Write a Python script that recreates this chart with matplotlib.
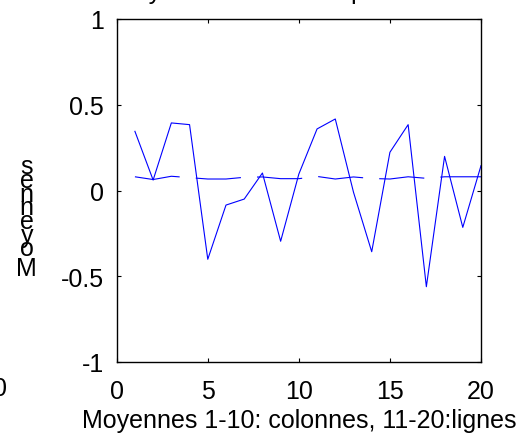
import matplotlib
matplotlib.use("Agg")
import matplotlib.pyplot as plt
import numpy as np

plt.rcParams['font.family'] = ['Liberation Sans', 'DejaVu Sans']
plt.rcParams['lines.scale_dashes'] = False

# Data
x = list(range(1, 21))
moyennes = [0.345, 0.061, 0.394, 0.384, -0.401, -0.085, -0.050, 0.102, -0.296, 0.096,
            0.359, 0.417, -0.010, -0.357, 0.223, 0.384, -0.561, 0.199, -0.215, 0.145]
reference = [0.080, 0.064, 0.083, 0.075, 0.067, 0.067, 0.077, 0.079, 0.069, 0.069,
             0.082, 0.067, 0.079, 0.070, 0.067, 0.080, 0.071, 0.080, 0.080, 0.080]
xticks = [0, 5, 10, 15, 20]
yticks = [-1, -0.5, 0, 0.5, 1]
yticklabels = ['-1', '-0.5', '0', '0.5', '1']
xlabel = 'Moyennes 1-10: colonnes, 11-20:lignes'
ylabel = 'Moyennes'
title = 'Moyennes des effets par facteurs'

W, H = 527, 439
fig = plt.figure(figsize=(W / 100, H / 100), dpi=100)
ax = fig.add_axes([116.7 / W, 1 - 363 / H, (481 - 116.7) / W, (363 - 20) / H])

fs = 18
ax.plot(x, moyennes, color='#0000ff', lw=0.8)
ax.plot(x, reference, color='#0000ff', lw=0.8, ls=(0, (32.6, 11.6)))

ax.set_xlim(0, 20)
ax.set_ylim(-1, 1)
ax.set_xticks(xticks)
ax.set_xticklabels([str(t) for t in xticks])
ax.set_yticks(yticks)
ax.set_yticklabels(yticklabels)
ax.tick_params(direction='in', length=3, width=0.8, top=True, right=True,
               labelsize=fs, colors='black')
ax.tick_params(axis='x', pad=12)
ax.tick_params(axis='y', pad=9)
for s in ax.spines.values():
    s.set_linewidth(1.0)
ax.set_xlabel(xlabel, fontsize=fs, labelpad=4)

# title partially cut at the top of the image
fig.text(298.9 / W, 1 + 1.0 / H, title, fontsize=fs, ha='center', va='baseline')

# stacked upright letters of the y label (bottom to top)
adv = {'M': 0.833, 'o': 0.556, 'y': 0.5, 'e': 0.556, 'n': 0.556, 's': 0.5}
em = 25 * 1.0
pos = 277.0
for ch in ylabel:
    w = adv.get(ch, 0.556) * em
    c = pos - w / 2
    off = 9 if ch.isupper() else 6.5
    fig.text(26.7 / W, 1 - (c + off) / H, ch, fontsize=fs, ha='center', va='baseline')
    pos -= w

# fragment of a neighbouring tick label at the left edge
fig.text(7.5 / W, 1 - 396 / H, '0', fontsize=fs, ha='right', va='baseline')

fig.savefig('out.png', dpi=100)
